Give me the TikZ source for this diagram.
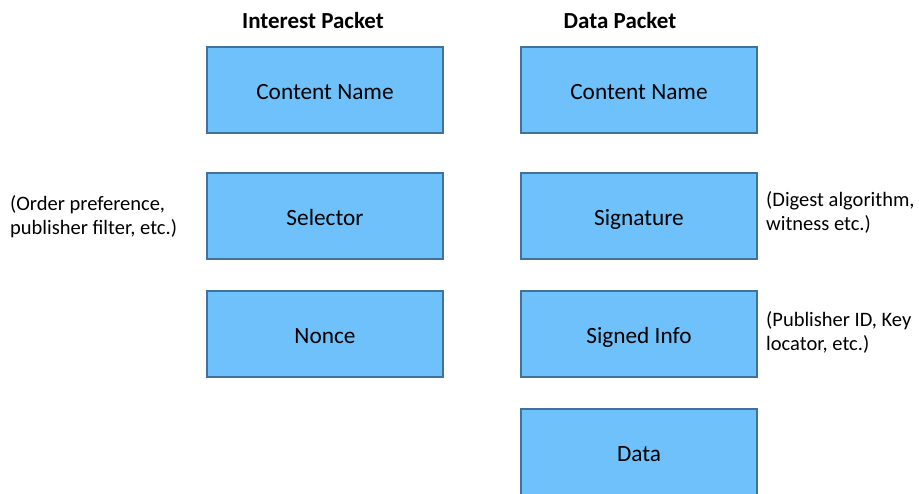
\documentclass[tikz,border=0pt]{standalone}
\usepackage{fontspec}
\setmainfont{Carlito}
\definecolor{boxfill}{HTML}{6EC1FA}
\definecolor{boxborder}{HTML}{41719C}
\begin{document}
\begin{tikzpicture}[x=1pt,y=-1pt,
  field/.style={draw=boxborder, line width=1.8pt, fill=boxfill,
    minimum width=236pt, minimum height=86pt, inner sep=0pt,
    text height=21pt, text depth=2pt,
    font=\fontsize{23.3}{27}\selectfont},
  heading/.style={font=\fontsize{23}{27}\selectfont\bfseries, inner sep=0pt, anchor=base},
  note/.style={font=\fontsize{20.5}{24}\selectfont, align=left, anchor=base west, inner sep=0pt}]
\useasboundingbox (0,0) rectangle (919,493);
\clip (0,0) rectangle (919,493);
\node[heading] (ih) at (313,28.5) {Interest Packet};
\node[heading] (dh) at (620,28.5) {Data Packet};
\node[field] (icn) at (325,90) {Content Name};
\node[field] (isel) at (325,216) {Selector};
\node[field] (inon) at (325,334) {Nonce};
\node[field] (dcn) at (639,90) {Content Name};
\node[field] (dsig) at (639,216) {Signature};
\node[field] (dsi) at (639,334) {Signed Info};
\node[field] (ddat) at (639,452) {Data};
\node[note] (nsel) at (10,234.5) {(Order preference,\\publisher filter, etc.)};
\node[note] (nsig) at (766,230) {(Digest algorithm,\\witness etc.)};
\node[note] (nsi) at (766,350.5) {(Publisher ID, Key\\locator, etc.)};
\end{tikzpicture}
\end{document}
